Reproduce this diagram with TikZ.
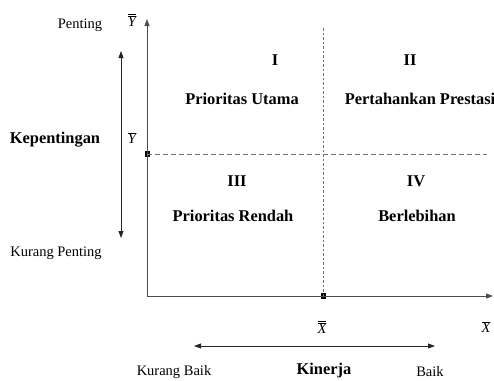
\documentclass[tikz,border=0pt]{standalone}
\usepackage{fontspec}
\setmainfont{Liberation Serif}
\usetikzlibrary{arrows.meta,positioning}

\begin{document}
\begin{tikzpicture}[x=1pt,y=-1pt,
axisline/.style={
% The line:
draw=black!70, line width=0.9pt,
% The tip:
-{Triangle[length=7pt,width=5pt]}
}, spanline/.style={
% both ends get a tip
draw=black!85, line width=0.8pt,
{Triangle[length=7pt,width=5pt]}-{Triangle[length=7pt,width=5pt]}
}, meanline/.style={
% The line:
draw=black!55, line width=0.8pt,
dash pattern=on 5pt off 3pt
}, meandot/.style={
draw=black!55, line width=0.8pt,
dash pattern=on 2.5pt off 2pt
}, tickbox/.style={
% The small block on an axis:
rectangle, fill=black, inner sep=0pt,
minimum width=5pt, minimum height=6pt
}, lab/.style={
% Font
font=\fontsize{14.5}{16}\selectfont
}, quad/.style={
% Font
font=\fontsize{16.4}{18}\selectfont\bfseries
}]

\useasboundingbox (0,0) rectangle (494,380);

% axes
\coordinate (o) at (147,296);
\coordinate (ytop) at (147,19);
\coordinate (xend) at (493,296);
\coordinate (xmtop) at (323,28);
\coordinate (ymend) at (487,154);
\node (ym) [tickbox] at (147,154) {};
\node (xm) [tickbox] at (323,296) {};

% ranges
\coordinate (kup) at (121,51);
\coordinate (kdn) at (121,238);
\coordinate (kl) at (194,346);
\coordinate (kr) at (435,346);

\path (o) edge[axisline] (ytop);
\path (o) edge[axisline] (xend);
\path (ym.center) edge[meanline] (ymend);
\path (xm.center) edge[meandot] (xmtop);
\path (kup) edge[spanline] (kdn);
\path (kl) edge[spanline] (kr);

% axis labels
\node (pt) [lab] at (80,25) {Penting};
\node (kp) [lab] at (56,253) {Kurang Penting};
\node (kep) [quad] at (55,140) {Kepentingan};
\node (yy) [lab] at (132,20) {$\overline{\overline{\textit{Y}}}$};
\node (yb) [lab] at (132,138) {$\overline{\textit{Y}}$};
\node (xx) [lab] at (322,327) {$\overline{\overline{\textit{X}}}$};
\node (xb) [lab] at (486,327) {$\overline{\textit{X}}$};
\node (kb) [lab] at (174,372) {Kurang Baik};
\node (kin) [quad] at (324,371) {Kinerja};
\node (bk) [lab] at (430,372) {Baik};

% quadrants
\node (q1) [quad] at (275,60) {I};
\node (q2) [quad] at (410,60) {II};
\node (t1) [quad] at (242,99) {Prioritas Utama};
\node (t2) [quad] at (420,99) {Pertahankan Prestasi};
\node (q3) [quad] at (237,181) {III};
\node (q4) [quad] at (416,181) {IV};
\node (t3) [quad] at (233,216) {Prioritas Rendah};
\node (t4) [quad] at (417,216) {Berlebihan};
\end{tikzpicture}
\end{document}
